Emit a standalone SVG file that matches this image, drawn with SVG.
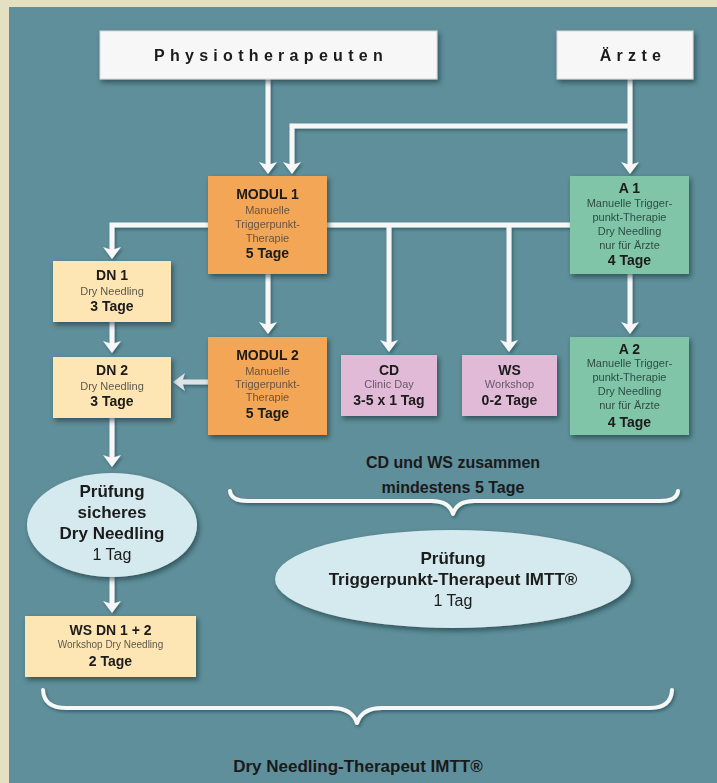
<svg xmlns="http://www.w3.org/2000/svg" width="717" height="783" viewBox="0 0 717 783">
  <defs>
    <filter id="sh" x="-20%" y="-20%" width="150%" height="150%">
      <feDropShadow dx="2" dy="3" stdDeviation="2.5" flood-color="#0d2a30" flood-opacity="0.6"/>
    </filter>
    <filter id="shl" x="-20%" y="-20%" width="150%" height="150%">
      <feDropShadow dx="1.5" dy="2" stdDeviation="1.5" flood-color="#0d2a30" flood-opacity="0.45"/>
    </filter>
    <marker id="ah" markerUnits="userSpaceOnUse" markerWidth="30" markerHeight="30" refX="0" refY="0" orient="auto" overflow="visible">
      <path d="M8,0 L-4,-9 L-1,0 L-4,9 Z" fill="#f7f7f7"/>
    </marker>
    <marker id="ahg" markerUnits="userSpaceOnUse" markerWidth="30" markerHeight="30" refX="0" refY="0" orient="auto" overflow="visible">
      <path d="M8,0 L-4,-9 L-1,0 L-4,9 Z" fill="#dde3e6"/>
    </marker>
  </defs>
  <style>
    .bg{fill:#e4e0c2}
    .panel{fill:#5f8f9a}
    .head{fill:#f7f7f7;stroke:#d8d8d8;stroke-width:1}
    .org{fill:#f3a655}
    .yel{fill:#fde6b3}
    .pnk{fill:#e0bad7}
    .grn{fill:#80c5a7}
    .ell{fill:#d4eaee}
    text{font-family:"Liberation Sans",Arial,sans-serif;text-anchor:middle;dominant-baseline:central}
    .ht{font-size:16px;font-weight:bold;fill:#1a1a1a;letter-spacing:5.3px}
    .b14{font-size:14px;font-weight:bold;fill:#1a1a1a}
    .b17{font-size:17px;font-weight:bold;fill:#1a1a1a}
    .n17{font-size:16px;fill:#1a1a1a}
    .b16{font-size:16px;font-weight:bold;fill:#1a1a1a}
    .s11{font-size:11px}
    .so{fill:#6a5440}
    .sy{fill:#5e574c}
    .sp{fill:#6b5868}
    .sg{fill:#2e4d44}
    .con{fill:none;stroke:#f7f7f7;stroke-width:5}
    .brace{fill:none;stroke:#f7f7f7;stroke-width:4;stroke-linecap:round;stroke-linejoin:round}
  </style>

  <rect class="bg" x="0" y="0" width="717" height="783"/>
  <rect class="panel" x="9" y="7" width="708" height="776"/>

  <g id="connectors" filter="url(#shl)">
    <path class="con" d="M268,79 V166" marker-end="url(#ah)"/>
    <path class="con" d="M630,79 V166" marker-end="url(#ah)"/>
    <path class="con" d="M630,126 H292 V166" marker-end="url(#ah)"/>
    <path class="con" d="M208,225 H112 V251" marker-end="url(#ah)"/>
    <path class="con" d="M327,225 H570"/>
    <path class="con" d="M389,225 V344" marker-end="url(#ah)"/>
    <path class="con" d="M509,225 V344" marker-end="url(#ah)"/>
    <path class="con" d="M268,274 V326" marker-end="url(#ah)"/>
    <path class="con" d="M630,274 V326" marker-end="url(#ah)"/>
    <path class="con" d="M112,322 V345" marker-end="url(#ah)"/>
    <path class="con" d="M208,382 H181" style="stroke:#dde3e6" marker-end="url(#ahg)"/>
    <path class="con" d="M112,418 V459" marker-end="url(#ah)"/>
    <path class="con" d="M112,577 V605" marker-end="url(#ah)"/>
  </g>

  <g id="braces" filter="url(#shl)">
    <path class="brace" d="M230,491 Q231,501 248,501 L432,501 Q449,501 453,514 Q457,501 474,501 L660,501 Q677,501 678,491"/>
    <path class="brace" d="M43,690 Q44,708 66,708 L332,708 Q352,708 357,723 Q362,708 382,708 L650,708 Q671,708 672,690"/>
  </g>

  <g id="physio" filter="url(#sh)">
    <rect class="head" x="100" y="31" width="337" height="48"/>
    <text class="ht" x="271" y="55">Physiotherapeuten</text>
  </g>
  <g id="aerzte" filter="url(#sh)">
    <rect class="head" x="557" y="31" width="136" height="48"/>
    <text class="ht" x="633" y="55">Ärzte</text>
  </g>

  <g id="modul1" filter="url(#sh)">
    <rect class="org" x="208" y="176" width="119" height="98"/>
    <text class="b14" x="267.5" y="194">MODUL 1</text>
    <text class="s11 so" x="267.5" y="210">Manuelle</text>
    <text class="s11 so" x="267.5" y="224">Triggerpunkt-</text>
    <text class="s11 so" x="267.5" y="238">Therapie</text>
    <text class="b14" x="267.5" y="253">5 Tage</text>
  </g>

  <g id="modul2" filter="url(#sh)">
    <rect class="org" x="208" y="337" width="119" height="98"/>
    <text class="b14" x="267.5" y="355">MODUL 2</text>
    <text class="s11 so" x="267.5" y="371">Manuelle</text>
    <text class="s11 so" x="267.5" y="384">Triggerpunkt-</text>
    <text class="s11 so" x="267.5" y="397">Therapie</text>
    <text class="b14" x="267.5" y="413">5 Tage</text>
  </g>

  <g id="a1" filter="url(#sh)">
    <rect class="grn" x="570" y="176" width="119" height="98"/>
    <text class="b14" x="629.5" y="188">A 1</text>
    <text class="s11 sg" x="629.5" y="203">Manuelle Trigger-</text>
    <text class="s11 sg" x="629.5" y="217">punkt-Therapie</text>
    <text class="s11 sg" x="629.5" y="231">Dry Needling</text>
    <text class="s11 sg" x="629.5" y="244.5">nur für Ärzte</text>
    <text class="b14" x="629.5" y="260">4 Tage</text>
  </g>

  <g id="a2" filter="url(#sh)">
    <rect class="grn" x="570" y="337" width="119" height="98"/>
    <text class="b14" x="629.5" y="348.5">A 2</text>
    <text class="s11 sg" x="629.5" y="363">Manuelle Trigger-</text>
    <text class="s11 sg" x="629.5" y="377">punkt-Therapie</text>
    <text class="s11 sg" x="629.5" y="391">Dry Needling</text>
    <text class="s11 sg" x="629.5" y="405">nur für Ärzte</text>
    <text class="b14" x="629.5" y="421.5">4 Tage</text>
  </g>

  <g id="dn1" filter="url(#sh)">
    <rect class="yel" x="53" y="261" width="118" height="61"/>
    <text class="b14" x="112" y="275">DN 1</text>
    <text class="s11 sy" x="112" y="290.5">Dry Needling</text>
    <text class="b14" x="112" y="306">3 Tage</text>
  </g>

  <g id="dn2" filter="url(#sh)">
    <rect class="yel" x="53" y="357" width="118" height="61"/>
    <text class="b14" x="112" y="370">DN 2</text>
    <text class="s11 sy" x="112" y="385.5">Dry Needling</text>
    <text class="b14" x="112" y="401">3 Tage</text>
  </g>

  <g id="cd" filter="url(#sh)">
    <rect class="pnk" x="341" y="355" width="96" height="61"/>
    <text class="b14" x="389" y="369.5">CD</text>
    <text class="s11 sp" x="389" y="384">Clinic Day</text>
    <text class="b14" x="389" y="400">3-5 x 1 Tag</text>
  </g>

  <g id="ws" filter="url(#sh)">
    <rect class="pnk" x="462" y="355" width="95" height="61"/>
    <text class="b14" x="509.5" y="369.5">WS</text>
    <text class="s11 sp" x="509.5" y="384">Workshop</text>
    <text class="b14" x="509.5" y="400">0-2 Tage</text>
  </g>

  <g id="pruefung-dn" filter="url(#sh)">
    <ellipse class="ell" cx="112" cy="525" rx="85" ry="52"/>
    <text class="b17" x="112" y="491.5">Prüfung</text>
    <text class="b17" x="112" y="512">sicheres</text>
    <text class="b17" x="112" y="533">Dry Needling</text>
    <text class="n17" x="112" y="554.5">1 Tag</text>
  </g>

  <g id="wsdn" filter="url(#sh)">
    <rect class="yel" x="25" y="616" width="171" height="61"/>
    <text class="b14" x="110.5" y="629.5">WS DN 1 + 2</text>
    <text class="sy" style="font-size:10px" x="110.5" y="644.5">Workshop Dry Needling</text>
    <text class="b14" x="110.5" y="660.5">2 Tage</text>
  </g>

  <g id="label-cdws">
    <text class="b16" x="453" y="462">CD und WS zusammen</text>
    <text class="b16" x="453" y="487">mindestens 5 Tage</text>
  </g>

  <g id="pruefung-tp" filter="url(#sh)">
    <ellipse class="ell" cx="453" cy="579" rx="178" ry="49"/>
    <text class="b17" x="453" y="558">Prüfung</text>
    <text class="b17" x="453" y="579">Triggerpunkt-Therapeut IMTT®</text>
    <text class="n17" x="453" y="600">1 Tag</text>
  </g>

  <g id="label-dn">
    <text class="b17" x="358" y="766">Dry Needling-Therapeut IMTT®</text>
  </g>
</svg>
